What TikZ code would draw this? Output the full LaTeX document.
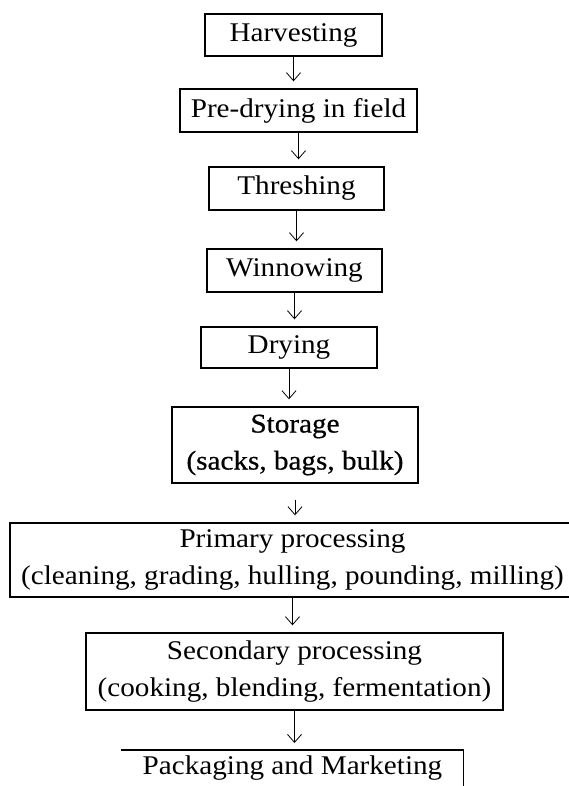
\documentclass[tikz,border=0pt]{standalone}
\usepackage{fontspec}
\setmainfont[FakeStretch=1.08]{Liberation Serif}
\newfontfamily\heavyserif[FakeStretch=1.08,FakeBold=0.6]{Liberation Serif}
\usetikzlibrary{arrows.meta,positioning}
\tikzset{
  stage/.style={draw, line width=1.4pt, inner sep=0pt, align=center,
    font=\fontsize{27}{37}\selectfont},
  flow/.style={line width=0.8pt, -{Straight Barb[length=8pt,width=14pt]}, shorten >=7pt}
}

\begin{document}
\begin{tikzpicture}[x=1pt,y=-1pt]
  \useasboundingbox (0,0) rectangle (568,786);
  \node[stage, minimum width=177pt, minimum height=42pt] (harvest) at (293.5,35) {Harvesting};
  \node[stage, minimum width=237pt, minimum height=43pt] (predry) at (298.5,110.5) {Pre-drying in field};
  \node[stage, minimum width=175pt, minimum height=43pt] (thresh) at (296.5,188.5) {Threshing};
  \node[stage, minimum width=175pt, minimum height=43pt] (winnow) at (294.5,270.5) {Winnowing};
  \node[stage, minimum width=176pt, minimum height=41pt] (drying) at (289,347.5) {Drying};
  \node[stage, minimum width=246pt, minimum height=76pt, font=\fontsize{27}{37}\heavyserif] (storage) at (295,445) {Storage\\(sacks, bags, bulk)};
  \node[stage, minimum width=565pt, minimum height=74pt] (primary) at (292.5,560) {Primary processing\\(cleaning, grading, hulling, pounding, milling)};
  \node[stage, minimum width=417pt, minimum height=77pt] (second) at (294.5,671.5) {Secondary processing\\(cooking, blending, fermentation)};
  % last box is cut off by the page edge
  \node[stage, draw=none, minimum width=341pt, anchor=north, inner ysep=5pt] (pack) at (292.5,750) {Packaging and Marketing};
  \coordinate (packend) at (463,786);
  \draw[line width=1.4pt] (pack.north west) -- (pack.north east) -- (pack.north east |- packend);

  \foreach \a/\b in {harvest/predry, predry/thresh, thresh/winnow, winnow/drying, drying/storage, primary/second, second/pack}
    \draw[flow] (\a.south) -- (\a.south |- \b.north);
  \draw[flow, shorten <=16pt] (storage.south) -- (storage.south |- primary.north);
\end{tikzpicture}
\end{document}
